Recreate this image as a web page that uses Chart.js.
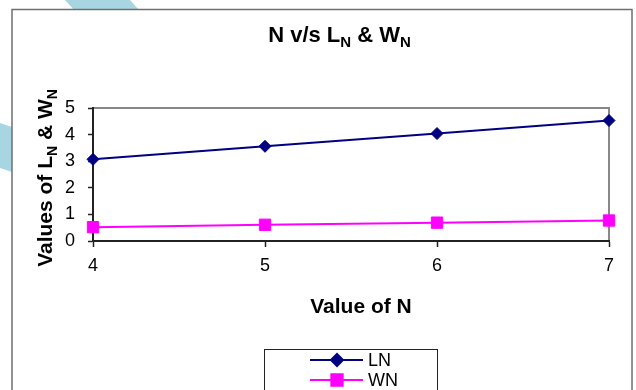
<!DOCTYPE html>
<html lang="en">
<head>
<meta charset="UTF-8">
<title>N v/s LN & WN</title>
<script src="https://cdn.jsdelivr.net/npm/chart.js"></script>
<style>
html, body {
margin: 0;
padding: 0;
background: #ffffff;
}
.chart-box {
position: relative;
width: 636px;
height: 390px;
}
</style>
</head>
<body>
<div class="chart-box">
<canvas id="nChart" width="636" height="390"></canvas>
</div>
<script>
// values
const nValues = ['4', '5', '6', '7'];
const lnValues = [3.07, 3.56, 4.04, 4.53];
const wnValues = [0.52, 0.61, 0.69, 0.77];
const seriesNames = ['LN', 'WN'];
const yTicks = [0, 1, 2, 3, 4, 5];

const FONT = "'Liberation Sans', Arial, sans-serif";

// text with subscripts: list of [text, isSub]
function drawRich(ctx, parts, x, y, size, subSize) {
  let w = 0;
  parts.forEach(p => {
    ctx.font = 'bold ' + (p[1] ? subSize : size) + 'px ' + FONT;
    w += ctx.measureText(p[0]).width;
  });
  let cx = x - w / 2;
  parts.forEach(p => {
    ctx.font = 'bold ' + (p[1] ? subSize : size) + 'px ' + FONT;
    ctx.fillText(p[0], cx, y + (p[1] ? 5 : 0));
    cx += ctx.measureText(p[0]).width;
  });
}

const excelLook = {
  id: 'excelLook',
  beforeDraw(chart) {
    const ctx = chart.ctx;
    const a = chart.chartArea;
    ctx.save();
    ctx.fillStyle = '#ffffff';
    ctx.fillRect(0, 0, chart.width, chart.height);
    // blue stripes from the page behind the chart
    ctx.fillStyle = '#a7d6e2';
    ctx.beginPath();
    ctx.moveTo(65, 0); ctx.lineTo(130, 0); ctx.lineTo(139, 10); ctx.lineTo(74, 10);
    ctx.fill();
    ctx.beginPath();
    ctx.moveTo(0, 123); ctx.lineTo(12, 127); ctx.lineTo(12, 172); ctx.lineTo(0, 168);
    ctx.fill();
    // outer frame
    ctx.strokeStyle = '#6f6f6f';
    ctx.lineWidth = 1.5;
    ctx.strokeRect(12, 9.5, 620, 400);
    // plot area border
    ctx.strokeStyle = '#888888';
    ctx.lineWidth = 2;
    ctx.strokeRect(a.left, a.top, a.right - a.left, a.bottom - a.top);
    ctx.restore();
  },
  afterDraw(chart) {
    const ctx = chart.ctx;
    ctx.save();
    ctx.fillStyle = '#000000';
    ctx.textBaseline = 'alphabetic';
    ctx.textAlign = 'left';
    // chart title
    drawRich(ctx, [['N v/s L', false], ['N', true], [' & W', false], ['N', true]], 339.5, 41.5, 22, 15);
    // y axis title
    ctx.save();
    ctx.translate(52, 178);
    ctx.rotate(-Math.PI / 2);
    drawRich(ctx, [['Values of L', false], ['N', true], [' & W', false], ['N', true]], 0, 0, 21, 14);
    ctx.restore();
    // x axis title
    drawRich(ctx, [['Value of N', false]], 361, 313, 21, 14);

    // legend
    ctx.strokeStyle = '#222222';
    ctx.lineWidth = 1;
    ctx.strokeRect(264.5, 349.5, 173, 60);
    const rows = [360, 380];
    chart.data.datasets.forEach((ds, i) => {
      const y = rows[i];
      ctx.strokeStyle = ds.borderColor;
      ctx.lineWidth = 2;
      ctx.beginPath();
      ctx.moveTo(310, y);
      ctx.lineTo(363, y);
      ctx.stroke();
      Chart.helpers.drawPoint(ctx, {
        pointStyle: ds.pointStyle,
        radius: ds.pointRadius,
        borderWidth: 1,
        rotation: 0
      }, 337, y);
      ctx.fillStyle = ds.borderColor;
      ctx.fill();
      ctx.fillStyle = '#000000';
      ctx.font = '18px ' + FONT;
      ctx.textBaseline = 'middle';
      ctx.fillText(ds.label, 368, y + 1);
      ctx.textBaseline = 'alphabetic';
    });
    ctx.restore();
  }
};

new Chart(document.getElementById('nChart'), {
  type: 'line',
  data: {
    labels: nValues,
    datasets: [
      {
        label: seriesNames[0],
        data: lnValues,
        borderColor: '#000080',
        backgroundColor: '#000080',
        borderWidth: 2,
        pointStyle: 'rectRot',
        pointRadius: 6,
        pointBorderWidth: 1,
        tension: 0
      },
      {
        label: seriesNames[1],
        data: wnValues,
        borderColor: '#ff00ff',
        backgroundColor: '#ff00ff',
        borderWidth: 2,
        pointStyle: 'rect',
        pointRadius: 8,
        pointBorderWidth: 1,
        tension: 0
      }
    ]
  },
  options: {
    responsive: false,
    animation: false,
    layout: {
      padding: { top: 108, left: 13, right: 27, bottom: 0 }
    },
    plugins: {
      legend: { display: false },
      title: { display: false },
      tooltip: { enabled: false }
    },
    scales: {
      x: {
        offset: false,
        afterFit: scale => { scale.height = 149; },
        border: { color: '#222222', width: 2 },
        grid: { drawOnChartArea: false, drawTicks: true, tickLength: 6, tickColor: '#222222', tickWidth: 1.5 },
        ticks: { color: '#000000', padding: 8, font: { family: FONT, size: 18 } }
      },
      y: {
        min: 0,
        max: 5,
        afterFit: scale => { scale.width = 80; },
        afterBuildTicks: scale => { scale.ticks = yTicks.map(v => ({ value: v })); },
        border: { color: '#222222', width: 2 },
        grid: { drawOnChartArea: false, drawTicks: true, tickLength: 5, tickColor: '#222222', tickWidth: 1.5 },
        ticks: { color: '#000000', padding: 13, font: { family: FONT, size: 18 } }
      }
    }
  },
  plugins: [excelLook]
});
</script>
</body>
</html>
